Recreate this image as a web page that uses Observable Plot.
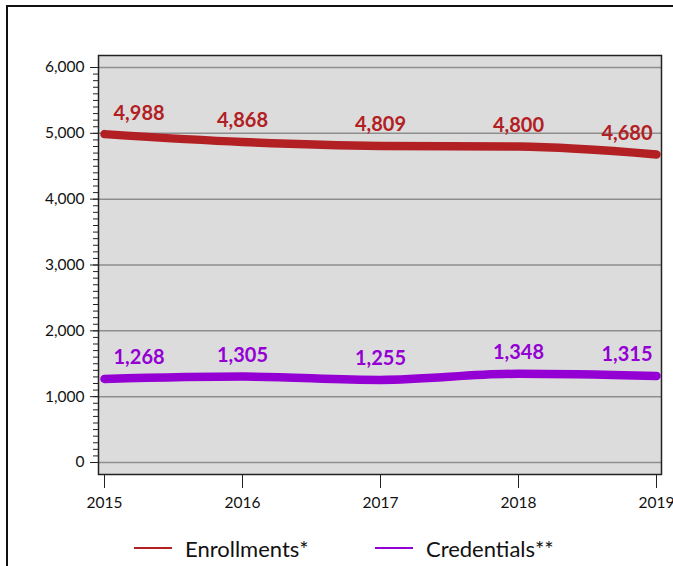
<!DOCTYPE html>
<html>
<head>
<meta charset="utf-8">
<script src="https://cdn.jsdelivr.net/npm/d3@7"></script>
<script src="https://cdn.jsdelivr.net/npm/@observablehq/plot@0.6"></script>
<style>
  html, body { margin: 0; padding: 0; background: #fff; width: 673px; height: 566px; overflow: hidden; }
  body { position: relative; font-family: Lato, "Open Sans", sans-serif; }
  #box { position: absolute; left: 6px; top: 5px; width: 720px; height: 600px;
         border-top: 2px solid #111; border-left: 2px solid #111; }
  #chart { position: absolute; left: 0; top: 0; }
  #legend { position: absolute; left: 0; top: 533px; width: 673px; height: 30px; }
  .li { position: absolute; top: 0; display: flex; align-items: center; height: 30px;
        font-size: 22px; color: #111; }
  .li span.sw { display: inline-block; width: 38px; height: 2.5px; margin-right: 13px; }
</style>
</head>
<body>
<div id="box"></div>
<div id="chart"></div>
<div id="legend"></div>
<script>
const years = [2015, 2016, 2017, 2018, 2019];
const enrollments = [4988, 4868, 4809, 4800, 4680];
const credentials = [1268, 1305, 1255, 1348, 1315];
const seriesNames = ["Enrollments*", "Credentials**"];
const seriesColors = ["#b22024", "#9400d3"];
const yTicks = [0, 1000, 2000, 3000, 4000, 5000, 6000];
const yMinorTicks = d3.range(0, 6001, 100);

const rows = [];
years.forEach((yr, i) => {
  rows.push({year: yr, value: enrollments[i], series: seriesNames[0], idx: i});
  rows.push({year: yr, value: credentials[i], series: seriesNames[1], idx: i});
});
const colorOf = s => seriesColors[seriesNames.indexOf(s)];
const fmt = d3.format(",");
const last = years.length - 1;

const labelOpts = {
  x: "year", y: "value", text: d => fmt(d.value), fill: d => colorOf(d.series),
  fontSize: 20, fontWeight: "bold", dy: -21
};

const chart = Plot.plot({
  width: 673,
  height: 525,
  marginLeft: 98,
  marginRight: 12,
  marginTop: 55,
  marginBottom: 51,
  style: {background: "transparent", fontFamily: "Lato, 'Open Sans', sans-serif", color: "#111"},
  x: {type: "linear", domain: [2015, 2019], insetLeft: 6, insetRight: 5},
  y: {domain: [0, 6000], insetTop: 12, insetBottom: 12},
  marks: [
    Plot.frame({fill: "#dcdcdc"}),
    Plot.gridY(yTicks, {stroke: "#8e8e8e", strokeOpacity: 1, strokeWidth: 1.5}),
    Plot.frame({stroke: "#222", strokeWidth: 1.5}),
    Plot.axisY(yMinorTicks, {tickSize: 5, text: null, label: null, stroke: "#222"}),
    Plot.axisY(yTicks, {tickSize: 8, tickPadding: 6, tickFormat: fmt, fontSize: 15.5, label: null, stroke: "#222"}),
    Plot.axisX(years, {tickSize: 14, tickPadding: 8, tickFormat: "d", fontSize: 15.5, label: null, stroke: "#222"}),
    Plot.line(rows, {x: "year", y: "value", z: "series", stroke: d => colorOf(d.series),
      strokeWidth: 8.5, strokeLinecap: "round", strokeLinejoin: "round", curve: "monotone-x"}),
    Plot.text(rows.filter(d => d.idx === 0), {...labelOpts, textAnchor: "start", dx: 9}),
    Plot.text(rows.filter(d => d.idx > 0 && d.idx < last), {...labelOpts, textAnchor: "middle"}),
    Plot.text(rows.filter(d => d.idx === last), {...labelOpts, textAnchor: "end", dx: -4})
  ]
});
document.getElementById("chart").appendChild(chart);

const legendX = [134, 375];
const legend = d3.select("#legend");
seriesNames.forEach((name, i) => {
  const item = legend.append("div").attr("class", "li").style("left", legendX[i] + "px");
  item.append("span").attr("class", "sw").style("background", seriesColors[i]);
  item.append("span").text(name);
});
</script>
</body>
</html>
